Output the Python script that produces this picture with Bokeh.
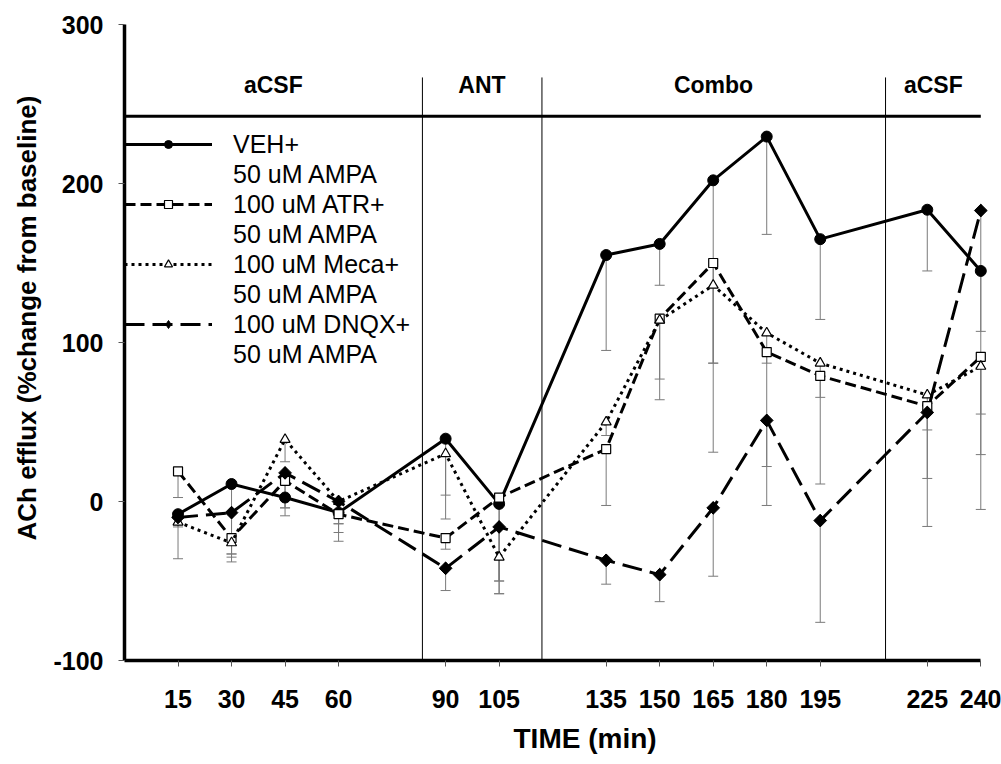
import math
from bokeh.plotting import figure
from bokeh.models import (Range1d, FixedTicker, Whisker, TeeHead, ColumnDataSource,
                          Legend, LegendItem, Title)
from bokeh.embed import file_html
from bokeh.resources import INLINE
from bokeh.core.properties import value

# ---------------- data ----------------
time_min = [15, 30, 45, 60, 90, 105, 135, 150, 165, 180, 195, 225, 240]

veh  = [-8, 11, 2.5, -7, 39.5, -1.5, 155, 162, 202, 229.5, 165, 183.5, 145]
atr  = [19, -23, 13, -8, -23, 2.5, 33, 115, 150, 94, 79, 60, 91]
meca = [-13, -26, 39, 0, 30, -35, 50, 114, 136, 106, 87, 67, 85]
dnqx = [-10, -7, 18, 0, -42, -16, -37, -46, -4, 51, -12, 56, 183]

veh_err  = [28, 49, 11.5, 18, 50.5, 56.5, 60, 26, 115, 61.5, 50.5, 38.5, 38]
atr_err  = [16.5, 10, 17, 11.5, 7, 52.5, 35.5, 38, 119, 72, 13.5, 45.5, 36]
meca_err = [3, 9, 14, 14, 26, 15, 8.5, 50, 49, 19, 76, 22, 55.5]
dnqx_err = [4, 26, 22, 14, 14, 42, 15, 17, 43, 53.5, 64, 71.7, 188]

phase_names   = ["aCSF", "ANT", "Combo", "aCSF"]
phase_centers = [41.7, 100.2, 165.1, 226.7]
phase_bounds  = [83.5, 117.0, 213.3]

x_ticks = time_min
y_ticks = [-100, 0, 100, 200, 300]

FONT = "Liberation Sans"

# ---------------- figure ----------------
p = figure(width=1001, height=764, x_range=Range1d(0, 243), y_range=Range1d(-100, 300),
           output_backend="svg", toolbar_location=None,
           min_border_left=124, min_border_right=10, min_border_top=24, min_border_bottom=104)
p.outline_line_color = None
p.grid.visible = False
p.background_fill_color = "white"
p.border_fill_color = "white"

for ax in (p.xaxis[0], p.yaxis[0]):
    ax.axis_line_width = 3.5
    ax.axis_line_color = "black"
    ax.major_tick_in = 0
    ax.major_tick_out = 6
    ax.major_tick_line_color = "#555555"
    ax.major_tick_line_width = 1
    ax.minor_tick_line_color = None
    ax.major_label_text_font = FONT
    ax.major_label_text_font_style = "bold"
    ax.major_label_text_font_size = "25px"
    ax.major_label_text_color = "black"

p.xaxis.ticker = FixedTicker(ticks=x_ticks)
p.xaxis.bounds = (0, 240)
p.yaxis.ticker = FixedTicker(ticks=y_ticks)
p.yaxis.major_label_overrides = {-100: "-100"}
p.xaxis.major_label_standoff = 23
p.yaxis.major_label_standoff = 15

# header: phase separators and band line
header_level = 242.3
header_top = 266.7
label_level = 262
n = len(phase_bounds)
p.segment(x0=phase_bounds, y0=[-100] * n, x1=phase_bounds, y1=[header_top] * n,
          line_color="black", line_width=1)
p.segment(x0=[0], y0=[header_level], x1=[240], y1=[header_level],
          line_color="black", line_width=3)
p.text(x=phase_centers, y=[label_level] * len(phase_centers), text=phase_names,
       text_font=value(FONT), text_font_style="bold", text_font_size="23px",
       text_align="center", text_baseline="middle", text_color="black")

# error bars
series = [
    ("veh", veh, veh_err),
    ("atr", atr, atr_err),
    ("meca", meca, meca_err),
    ("dnqx", dnqx, dnqx_err),
]
for name, vals, errs in series:
    src = ColumnDataSource(dict(x=time_min, y=vals, lo=[v - e for v, e in zip(vals, errs)]))
    w = Whisker(source=src, base="x", upper="y", lower="lo",
                line_color="#7a7a7a", line_width=1,
                upper_head=None,
                lower_head=TeeHead(size=10, line_color="#7a7a7a", line_width=1))
    p.add_layout(w)

# lines + markers
l_veh = p.line(time_min, veh, line_color="black", line_width=3)
m_veh = p.scatter(time_min, veh, marker="circle", size=11, fill_color="black", line_color="black")

l_atr = p.line(time_min, atr, line_color="black", line_width=3, line_dash="11 5")
m_atr = p.scatter(time_min, atr, marker="square", size=9, fill_color="white", line_color="black", line_width=1.2)

l_meca = p.line(time_min, meca, line_color="black", line_width=3, line_dash="3 4")
m_meca = p.scatter(time_min, meca, marker="triangle", size=10, fill_color="white", line_color="black", line_width=1.2)

l_dnqx = p.line(time_min, dnqx, line_color="black", line_width=3, line_dash="20 8")
m_dnqx_key = p.scatter(time_min, dnqx, marker="diamond", size=12,
                       fill_color="black", line_color="black")
m_dnqx = p.scatter(time_min, dnqx, marker="square", angle=math.pi / 4, size=9,
                   fill_color="black", line_color="black")

# legend-only helper for the second text line of each entry
dummy = p.line(x=[], y=[], line_alpha=0)

items = [
    LegendItem(label="VEH+", renderers=[l_veh, m_veh]),
    LegendItem(label="50 uM AMPA", renderers=[dummy]),
    LegendItem(label="100 uM ATR+", renderers=[l_atr, m_atr]),
    LegendItem(label="50 uM AMPA", renderers=[dummy]),
    LegendItem(label="100 uM Meca+", renderers=[l_meca, m_meca]),
    LegendItem(label="50 uM AMPA", renderers=[dummy]),
    LegendItem(label="100 uM DNQX+", renderers=[l_dnqx, m_dnqx_key]),
    LegendItem(label="50 uM AMPA", renderers=[dummy]),
]
legend = Legend(items=items, location=(0, 291), padding=0, margin=0, spacing=0,
                glyph_width=88, glyph_height=20, label_height=30, label_standoff=21,
                label_text_font=FONT, label_text_font_size="25px", label_text_color="black",
                background_fill_alpha=0, border_line_alpha=0)
p.add_layout(legend)

# axis titles (placed as in the original, off-centre)
x_title = Title(text="TIME (min)", align="left", offset=389, standoff=21,
                text_font=FONT, text_font_style="bold", text_font_size="28px",
                text_color="black")
p.add_layout(x_title, "below")
y_title = Title(text="ACh efflux (%change from baseline)", align="left", offset=120,
                standoff=18, text_font=FONT, text_font_style="bold",
                text_font_size="26px", text_color="black")
p.add_layout(y_title, "left")

open("out.html", "w").write(file_html(p, INLINE))
